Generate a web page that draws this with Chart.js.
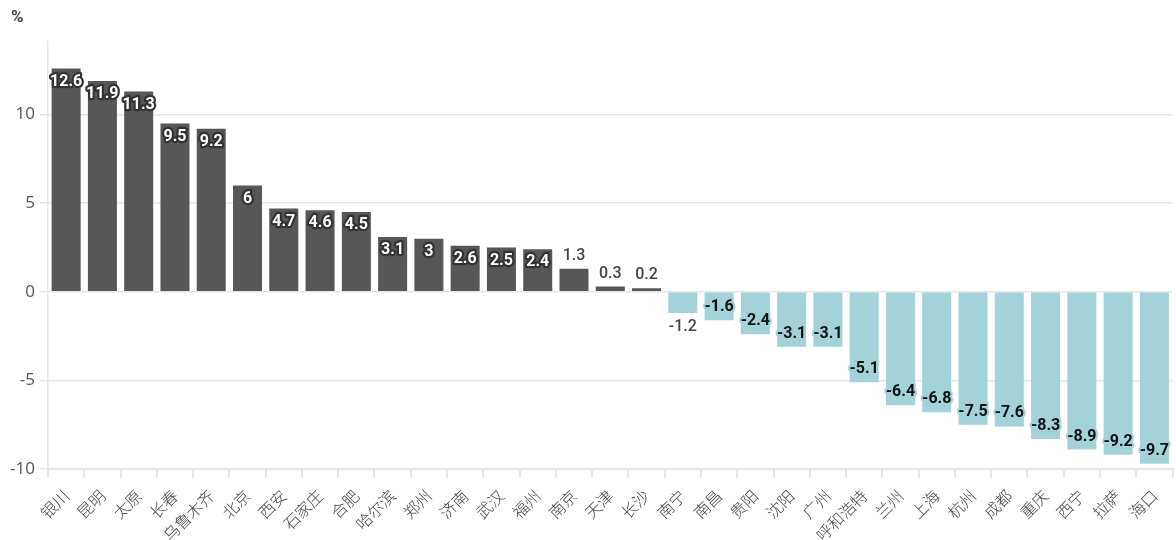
<!DOCTYPE html>
<html>
<head>
<meta charset="utf-8">
<script src="https://cdn.jsdelivr.net/npm/chart.js@4.4.1/dist/chart.umd.min.js"></script>
<style>
  html, body { margin: 0; padding: 0; background: #ffffff; }
  #wrap { width: 1176px; height: 540px; position: relative; }
</style>
</head>
<body>
<div id="wrap"><canvas id="c" width="1176" height="540"></canvas></div>
<script>
// City names, in chart order
const cities = ['银川','昆明','太原','长春','乌鲁木齐','北京','西安','石家庄','合肥','哈尔滨','郑州','济南','武汉','福州','南京','天津','长沙','南宁','南昌','贵阳','沈阳','广州','呼和浩特','兰州','上海','杭州','成都','重庆','西宁','拉萨','海口'];
// Percentage change per city
const changes = [12.6, 11.9, 11.3, 9.5, 9.2, 6, 4.7, 4.6, 4.5, 3.1, 3, 2.6, 2.5, 2.4, 1.3, 0.3, 0.2, -1.2, -1.6, -2.4, -3.1, -3.1, -5.1, -6.4, -6.8, -7.5, -7.6, -8.3, -8.9, -9.2, -9.7];
// Y-axis tick values
const yTicks = [-10, -5, 0, 5, 10];
const unitLabel = '%';

const POS = '#575757';
const NEG = '#a3d3d8';
const GRID = '#e6e6e6';
const LABEL_FONT = 'Roboto, "Liberation Sans", sans-serif';

const valueLabels = {
  id: 'valueLabels',
  afterDatasetsDraw(chart) {
    const ctx = chart.ctx;
    const meta = chart.getDatasetMeta(0);
    ctx.save();
    ctx.textAlign = 'center';
    ctx.textBaseline = 'middle';
    ctx.lineJoin = 'round';
    meta.data.forEach((el, i) => {
      const v = changes[i];
      const txt = String(v);
      const inside = Math.abs(v) >= 1.5;
      if (inside) {
        ctx.font = 'bold 16px ' + LABEL_FONT;
        const y = v >= 0 ? el.y + 13 : el.y - 13;
        ctx.lineWidth = 4.5;
        if (v >= 0) {
          ctx.strokeStyle = '#333333';
          ctx.fillStyle = '#ffffff';
        } else {
          ctx.strokeStyle = NEG;
          ctx.fillStyle = '#111111';
        }
        ctx.strokeText(txt, el.x, y);
        ctx.fillText(txt, el.x, y);
      } else {
        ctx.font = '500 16px ' + LABEL_FONT;
        ctx.fillStyle = '#444444';
        const y = v >= 0 ? el.y - 13 : el.y + 14;
        ctx.fillText(txt, el.x, y);
      }
    });
    ctx.restore();
  },
  afterDraw(chart) {
    const ctx = chart.ctx;
    ctx.save();
    ctx.font = 'bold 17px ' + LABEL_FONT;
    ctx.fillStyle = '#444444';
    ctx.textAlign = 'left';
    ctx.textBaseline = 'middle';
    ctx.fillText(unitLabel, 11, 18);
    ctx.restore();
  }
};

new Chart(document.getElementById('c'), {
  type: 'bar',
  data: {
    labels: cities,
    datasets: [{
      data: changes,
      backgroundColor: changes.map(v => v >= 0 ? POS : NEG),
      borderWidth: 0,
      barPercentage: 0.8,
      categoryPercentage: 1.0
    }]
  },
  options: {
    responsive: false,
    animation: false,
    layout: { padding: { top: 42, right: 2, left: 0, bottom: 0 } },
    plugins: { legend: { display: false }, tooltip: { enabled: false }, title: { display: false } },
    scales: {
      x: {
        afterFit(scale) { scale.height = 71; },
        grid: { drawOnChartArea: false, drawTicks: true, tickLength: 9, color: GRID, lineWidth: 2 },
        border: { display: true, color: GRID, width: 2 },
        ticks: {
          minRotation: 45, maxRotation: 45, autoSkip: false, padding: 8,
          color: '#444444',
          font: { family: '"Noto Sans CJK SC", sans-serif', size: 16, weight: '300' }
        }
      },
      y: {
        min: -10, max: 14.1,
        afterFit(scale) { scale.width = 48; },
        afterBuildTicks(scale) { scale.ticks = yTicks.map(v => ({ value: v })); },
        grid: { color: GRID, lineWidth: 1.5, tickLength: 8 },
        border: { display: true, color: GRID, width: 1.5 },
        ticks: {
          padding: 5,
          color: '#555555',
          font: { family: '"Open Sans", sans-serif', size: 17 }
        }
      }
    }
  },
  plugins: [valueLabels]
});
</script>
</body>
</html>
